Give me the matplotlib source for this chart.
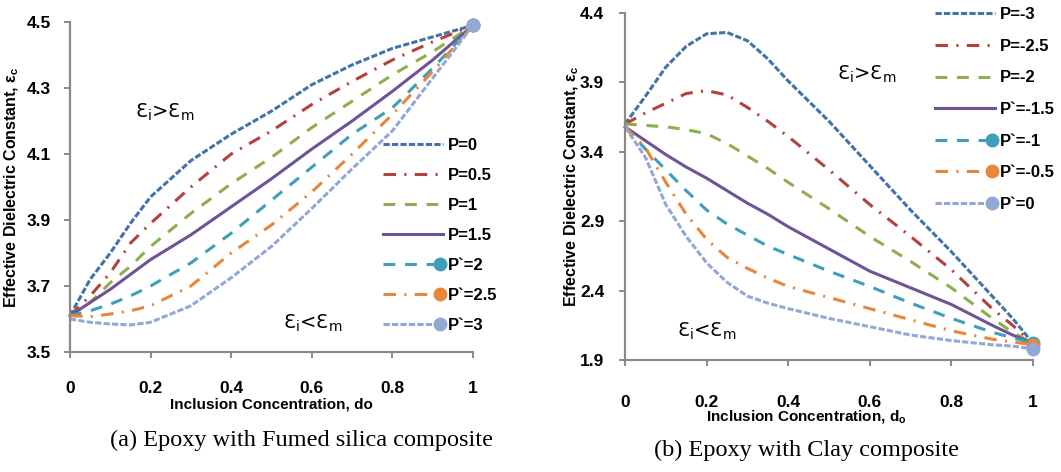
import matplotlib
matplotlib.use("Agg")
import matplotlib.pyplot as plt
from matplotlib.legend_handler import HandlerLine2D
from matplotlib.lines import Line2D

# ---- data ------------------------------------------------------------------
x_left = [0, 0.05, 0.1, 0.15, 0.2, 0.3, 0.4, 0.5, 0.6, 0.7, 0.8, 0.9, 1.0]
left_labels = ["P=0", "P=0.5", "P=1", "P=1.5", "P`=2", "P`=2.5", "P`=3"]
left_p0 = [3.61, 3.72, 3.80, 3.89, 3.97, 4.08, 4.16, 4.23, 4.31, 4.37, 4.42, 4.455, 4.49]
left_p05 = [3.61, 3.67, 3.74, 3.83, 3.89, 4.00, 4.10, 4.17, 4.25, 4.32, 4.385, 4.44, 4.49]
left_p1 = [3.61, 3.65, 3.71, 3.76, 3.82, 3.92, 4.01, 4.09, 4.18, 4.26, 4.34, 4.41, 4.49]
left_p15 = [3.61, 3.65, 3.69, 3.735, 3.78, 3.855, 3.94, 4.025, 4.115, 4.20, 4.29, 4.385, 4.49]
left_p2 = [3.61, 3.625, 3.645, 3.67, 3.70, 3.77, 3.86, 3.96, 4.06, 4.16, 4.24, 4.36, 4.49]
left_p25 = [3.61, 3.607, 3.615, 3.625, 3.64, 3.70, 3.80, 3.885, 3.985, 4.10, 4.22, 4.35, 4.49]
left_p3 = [3.60, 3.59, 3.585, 3.582, 3.59, 3.64, 3.725, 3.82, 3.935, 4.055, 4.17, 4.33, 4.49]

x_right = [0, 0.05, 0.1, 0.15, 0.2, 0.25, 0.3, 0.35, 0.4, 0.5, 0.6, 0.7, 0.8, 0.9, 0.95, 1.0]
right_labels = ["P=-3", "P=-2.5", "P=-2", "P`=-1.5", "P`=-1", "P`=-0.5", "P`=0"]
right_m3 = [3.60, 3.80, 4.01, 4.16, 4.25, 4.26, 4.20, 4.07, 3.91, 3.62, 3.30, 2.98, 2.68, 2.36, 2.20, 2.02]
right_m25 = [3.60, 3.68, 3.75, 3.82, 3.84, 3.81, 3.72, 3.62, 3.51, 3.27, 3.02, 2.79, 2.55, 2.27, 2.15, 2.02]
right_m2 = [3.60, 3.59, 3.58, 3.56, 3.53, 3.46, 3.37, 3.28, 3.18, 2.99, 2.79, 2.61, 2.42, 2.20, 2.10, 2.02]
right_m15 = [3.58, 3.48, 3.38, 3.29, 3.21, 3.12, 3.03, 2.95, 2.86, 2.70, 2.54, 2.42, 2.30, 2.15, 2.08, 2.02]
right_m1 = [3.58, 3.42, 3.27, 3.12, 2.98, 2.88, 2.80, 2.72, 2.66, 2.54, 2.43, 2.31, 2.20, 2.10, 2.06, 2.02]
right_m05 = [3.58, 3.43, 3.18, 2.95, 2.77, 2.64, 2.56, 2.49, 2.43, 2.35, 2.27, 2.19, 2.11, 2.05, 2.03, 2.01]
right_0 = [3.58, 3.36, 3.02, 2.79, 2.60, 2.46, 2.36, 2.31, 2.27, 2.20, 2.14, 2.08, 2.04, 2.01, 2.00, 1.98]

left_series = [left_p0, left_p05, left_p1, left_p15, left_p2, left_p25, left_p3]
right_series = [right_m3, right_m25, right_m2, right_m15, right_m1, right_m05, right_0]

# ---- styling ---------------------------------------------------------------
colors = ["#4472A9", "#B5413E", "#8EB04C", "#6E5497", "#3F9EB8", "#E8863A", "#91A9D4"]
short_dash = (0, (4.5, 1.6))
dash_dot = (0, (9, 6, 1.5, 6))
long_dash = (0, (8.5, 7))
styles = [short_dash, dash_dot, long_dash, "-", long_dash, dash_dot, short_dash]
with_marker = [False, False, False, False, True, True, True]

SANS = ["Liberation Sans", "DejaVu Sans"]
plt.rcParams["lines.scale_dashes"] = False
GREY = "#8a8a8a"


class EndMarkerHandler(HandlerLine2D):
    """line over the full handle, marker (if any) at its right end"""

    def create_artists(self, legend, orig_handle, xdescent, ydescent,
                       width, height, fontsize, trans):
        y = (height - ydescent) / 2
        line = Line2D([-xdescent, -xdescent + width], [y, y])
        self.update_prop(line, orig_handle, legend)
        line.set_marker("None")
        line.set_transform(trans)
        arts = [line]
        if orig_handle.get_marker() not in (None, "None", ""):
            mk = Line2D([-xdescent + width - 2], [y])
            self.update_prop(mk, orig_handle, legend)
            mk.set_linestyle("None")
            mk.set_markevery(None)
            mk.set_transform(trans)
            arts.append(mk)
        return arts


def draw_panel(ax, x, series, labels, ylim, yticks, xlabel, ylabel,
               xpad, ypad, xlab_xy, ylab_x, leg_xy, leg_spacing):
    handles = []
    for y, lab, c, ls, mk in zip(series, labels, colors, styles, with_marker):
        (ln,) = ax.plot(x, y, color=c, lw=2.2, ls=ls, label=lab, clip_on=False,
                        marker="o" if mk else None, markersize=9, markevery=[-1])
        handles.append(ln)
    ax.set_xlim(0, 1)
    ax.set_ylim(*ylim)
    ax.set_xticks([0, 0.2, 0.4, 0.6, 0.8, 1.0])
    ax.set_xticklabels(["0", "0.2", "0.4", "0.6", "0.8", "1"])
    ax.set_yticks(yticks)
    ax.set_yticklabels([f"{v:.1f}" for v in yticks])
    for s in ("top", "right"):
        ax.spines[s].set_visible(False)
    for s in ("left", "bottom"):
        ax.spines[s].set_color(GREY)
        ax.spines[s].set_linewidth(1.6)
    ax.tick_params(axis="both", direction="out", length=4, width=1.4, color=GREY)
    ax.tick_params(axis="x", pad=xpad)
    ax.tick_params(axis="y", pad=ypad)
    for t in ax.get_xticklabels() + ax.get_yticklabels():
        t.set_family(SANS)
        t.set_fontweight("bold")
        t.set_fontsize(12.5)
    ax.set_xlabel(xlabel, family=SANS, fontweight="bold", fontsize=11)
    ax.xaxis.set_label_coords(*xlab_xy)
    ax.set_ylabel(ylabel, family=SANS, fontweight="bold", fontsize=11.5)
    ax.yaxis.set_label_coords(ylab_x, 0.5)
    ax.legend(handles=handles, loc="upper left", bbox_to_anchor=leg_xy,
              bbox_transform=ax.figure.transFigure, frameon=False,
              borderpad=0, borderaxespad=0, handlelength=3.6, handletextpad=0.3,
              labelspacing=leg_spacing,
              prop={"family": SANS, "weight": "bold", "size": 12},
              handler_map={h: EndMarkerHandler() for h in handles})


W, H = 1061, 472
fig = plt.figure(figsize=(W / 100, H / 100), dpi=100)

ax1 = fig.add_axes([70 / W, 1 - 352 / H, 403 / W, 330 / H])
draw_panel(ax1, x_left, left_series, left_labels, (3.5, 4.5),
           [3.5, 3.7, 3.9, 4.1, 4.3, 4.5],
           "Inclusion Concentration, do",
           "Effective Dielectric Constant, ε$_\\mathregular{c}$",
           xpad=17, ypad=9.5, xlab_xy=(0.501, -0.139), ylab_x=-0.122,
           leg_xy=(383 / W, 1 - 138 / H), leg_spacing=0.9)

ax2 = fig.add_axes([625 / W, 1 - 360 / H, 408 / W, 347 / H])
draw_panel(ax2, x_right, right_series, right_labels, (1.9, 4.4),
           [1.9, 2.4, 2.9, 3.4, 3.9, 4.4],
           "Inclusion Concentration, d$_\\mathregular{o}$",
           "Effective Dielectric Constant, ε$_\\mathregular{c}$",
           xpad=21.5, ypad=11, xlab_xy=(0.444, -0.14), ylab_x=-0.108,
           leg_xy=(935 / W, 1 - 7 / H), leg_spacing=1.0)

# region annotations
eps_gt = "Ɛ$_\\mathregular{i}$>Ɛ$_\\mathregular{m}$"
eps_lt = "Ɛ$_\\mathregular{i}$<Ɛ$_\\mathregular{m}$"
for xpx, ypx, s in [(135, 112, eps_gt), (283, 323, eps_lt),
                    (837, 74, eps_gt), (677, 331, eps_lt)]:
    fig.text(xpx / W, 1 - ypx / H, s, fontsize=14, family="DejaVu Sans",
             ha="left", va="center")

# captions
fig.text(301 / W, 1 - 440 / H, "(a) Epoxy with Fumed silica composite",
         family="Liberation Serif", fontsize=17.5, ha="center", va="center")
fig.text(806 / W, 1 - 450 / H, "(b) Epoxy with Clay composite",
         family="Liberation Serif", fontsize=17.5, ha="center", va="center")

fig.savefig("out.png", dpi=100)
